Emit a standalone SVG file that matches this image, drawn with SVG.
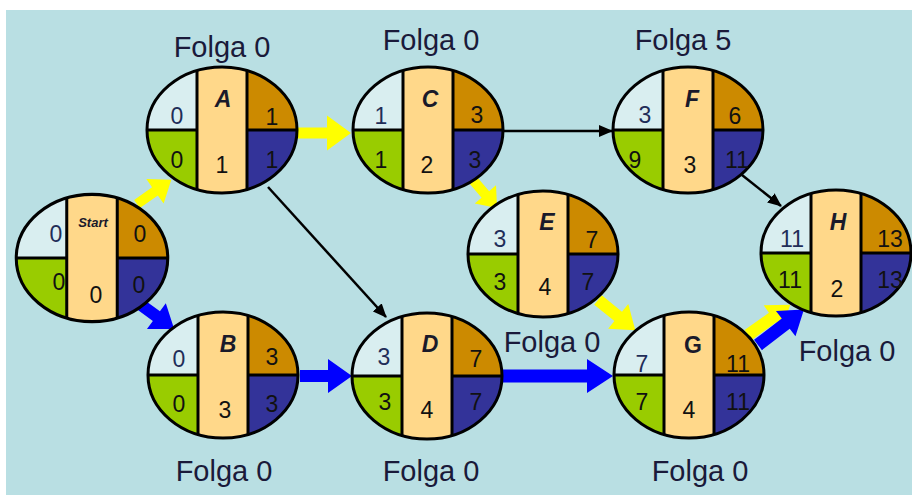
<svg xmlns="http://www.w3.org/2000/svg" width="912" height="497" viewBox="0 0 912 497">
<defs>
<style>
.q1{fill:#d9eef0}.q2{fill:#cc8a00}.q3{fill:#99cc00}.q4{fill:#333399}.col{fill:#ffd88a}
.ln{stroke:#000;stroke-width:3;fill:none}
.num{font-family:"Liberation Sans",Arial,sans-serif;font-size:23px;fill:#111;text-anchor:middle}
.tl{fill:#1f2d58}
.let{font-family:"Liberation Sans",Arial,sans-serif;font-size:23px;font-style:italic;font-weight:bold;fill:#1a1a2a;text-anchor:middle}
.folga{font-family:"Liberation Sans",Arial,sans-serif;font-size:29px;fill:#1a1a3a;text-anchor:middle}
.ya{fill:#ffff00}.ba{fill:#0000ff}
.thin{stroke:#000;stroke-width:2.5;fill:none}
</style>
<clipPath id="ec"><ellipse cx="0" cy="0" rx="75" ry="63"/></clipPath>
<g id="node">
<g clip-path="url(#ec)">
<rect class="q1" x="-76" y="-64" width="51" height="64"/>
<rect class="q3" x="-76" y="0" width="51" height="64"/>
<rect class="q2" x="25" y="-64" width="51" height="64"/>
<rect class="q4" x="25" y="0" width="51" height="64"/>
<rect class="col" x="-25" y="-64" width="50" height="128"/>
<path class="ln" d="M-25,-64V64M25,-64V64M-76,0H-25M25,0H76"/>
</g>
<ellipse class="ln" cx="0" cy="0" rx="75" ry="63"/>
</g>
<marker id="ah" markerUnits="userSpaceOnUse" markerWidth="14" markerHeight="12" refX="13" refY="6" orient="auto">
<path d="M0,0L14,6L0,12z" fill="#000"/>
</marker>
</defs>
<rect x="0" y="0" width="912" height="497" fill="#ffffff"/>
<rect x="6" y="10" width="906" height="485" fill="#b9dfe3"/>

<g id="connectors">
<line class="thin" x1="268" y1="187" x2="386" y2="317" marker-end="url(#ah)"/>
<line class="thin" x1="503" y1="131" x2="612" y2="131" marker-end="url(#ah)"/>
<line class="thin" x1="742" y1="175" x2="781" y2="206" marker-end="url(#ah)"/>
<polygon class="ya" transform="translate(137,204) rotate(-35.2)" points="0,-5 22,-5 22,-15 42,0 22,15 22,5 0,5"/>
<polygon class="ba" transform="translate(137,302) rotate(36.1)" points="0,-6 24,-6 24,-16 46,0 24,16 24,6 0,6"/>
<polygon class="ya" transform="translate(298,133)" points="0,-5.5 29,-5.5 29,-17.5 53,0 29,17.5 29,5.5 0,5.5"/>
<polygon class="ba" transform="translate(300,376)" points="0,-6 28,-6 28,-17 52,0 28,17 28,6 0,6"/>
<polygon class="ba" transform="translate(501,376)" points="0,-6.5 86,-6.5 86,-17 112,0 86,17 86,6.5 0,6.5"/>
<polygon class="ya" transform="translate(473,180) rotate(49.4)" points="0,-5 19,-5 19,-14 37,0 19,14 19,5 0,5"/>
<polygon class="ya" transform="translate(598,300) rotate(39)" points="0,-6 26,-6 26,-16 48,0 26,16 26,6 0,6"/>
<polygon class="ya" transform="translate(748,335) rotate(-35.5)" points="0,-6 30,-6 30,-15 52,0 30,15 30,6 0,6"/>
<polygon class="ba" transform="translate(758,345) rotate(-37.6)" points="0,-6.5 35,-6.5 35,-16 58,0 35,16 35,6.5 0,6.5"/>
</g>

<g id="Start">
<use href="#node" transform="translate(92,258) scale(1.01,1.01)"/>
<text x="93" y="227" class="let" style="font-size:13px">Start</text>
<text x="56" y="242" class="num tl">0</text>
<text x="140" y="242" class="num">0</text>
<text x="59" y="290" class="num">0</text>
<text x="96" y="303" class="num">0</text>
<text x="139" y="293" class="num">0</text>
</g>

<g id="A">
<use href="#node" transform="translate(222,130)"/>
<text x="223" y="107" class="let">A</text>
<text x="177" y="124" class="num tl">0</text>
<text x="272" y="125" class="num">1</text>
<text x="177" y="168" class="num">0</text>
<text x="222" y="173" class="num">1</text>
<text x="272" y="168" class="num">1</text>
</g>

<g id="B">
<use href="#node" transform="translate(223,375)"/>
<text x="228" y="352" class="let">B</text>
<text x="179" y="367" class="num tl">0</text>
<text x="272" y="365" class="num">3</text>
<text x="179" y="412" class="num">0</text>
<text x="225" y="418" class="num">3</text>
<text x="272" y="412" class="num">3</text>
</g>

<g id="C">
<use href="#node" transform="translate(428,130)"/>
<text x="430" y="107" class="let">C</text>
<text x="381" y="124" class="num tl">1</text>
<text x="477" y="123" class="num">3</text>
<text x="381" y="168" class="num">1</text>
<text x="427" y="173" class="num">2</text>
<text x="475" y="168" class="num">3</text>
</g>

<g id="D">
<use href="#node" transform="translate(427,376)"/>
<text x="430" y="352" class="let">D</text>
<text x="384" y="365" class="num tl">3</text>
<text x="476" y="367" class="num">7</text>
<text x="385" y="410" class="num">3</text>
<text x="427" y="418" class="num">4</text>
<text x="476" y="410" class="num">7</text>
</g>

<g id="E">
<use href="#node" transform="translate(543,254)"/>
<text x="547" y="230" class="let">E</text>
<text x="500" y="247" class="num tl">3</text>
<text x="592" y="248" class="num">7</text>
<text x="500" y="290" class="num">3</text>
<text x="545" y="295" class="num">4</text>
<text x="588" y="290" class="num">7</text>
</g>

<g id="F">
<use href="#node" transform="translate(688,130)"/>
<text x="692" y="107" class="let">F</text>
<text x="645" y="123" class="num tl">3</text>
<text x="735" y="124" class="num">6</text>
<text x="635" y="168" class="num">9</text>
<text x="690" y="173" class="num">3</text>
<text x="737" y="168" class="num">11</text>
</g>

<g id="G">
<use href="#node" transform="translate(689,375)"/>
<text x="693" y="353" class="let" style="font-style:normal">G</text>
<text x="642" y="372" class="num tl">7</text>
<text x="738" y="372" class="num">11</text>
<text x="642" y="410" class="num">7</text>
<text x="689" y="418" class="num">4</text>
<text x="738" y="410" class="num">11</text>
</g>

<g id="H">
<use href="#node" transform="translate(836,253)"/>
<text x="838" y="230" class="let">H</text>
<text x="792" y="247" class="num tl">11</text>
<text x="890" y="247" class="num">13</text>
<text x="790" y="288" class="num">11</text>
<text x="837" y="297" class="num">2</text>
<text x="890" y="288" class="num">13</text>
</g>

<g id="labels">
<text x="222" y="57" class="folga">Folga 0</text>
<text x="431" y="50" class="folga">Folga 0</text>
<text x="683" y="50" class="folga">Folga 5</text>
<text x="552" y="352" class="folga">Folga 0</text>
<text x="847" y="361" class="folga">Folga 0</text>
<text x="224" y="481" class="folga">Folga 0</text>
<text x="431" y="481" class="folga">Folga 0</text>
<text x="700" y="481" class="folga">Folga 0</text>
</g>
</svg>
